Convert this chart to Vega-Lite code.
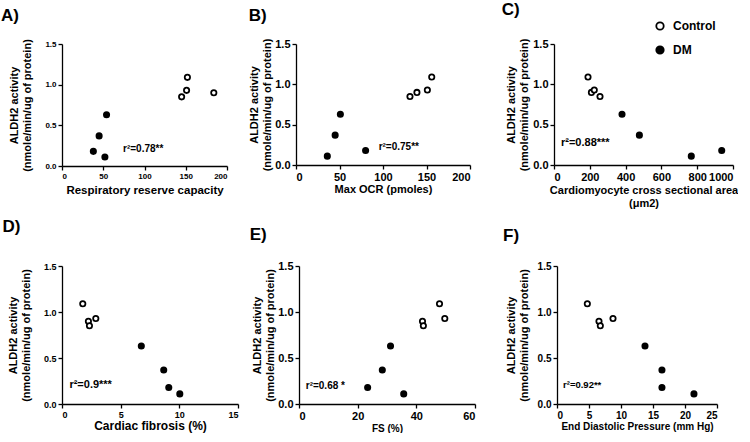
{
  "$schema": "https://vega.github.io/schema/vega-lite/v6.json",
  "background": "white",
  "padding": {"left": 0, "top": 0, "right": 0, "bottom": 0},
  "datasets": {
    "A": [
      {"x": 145, "y": 0.85, "group": "Control"}, {"x": 151, "y": 0.93, "group": "Control"},
      {"x": 152, "y": 1.09, "group": "Control"}, {"x": 184, "y": 0.90, "group": "Control"},
      {"x": 38, "y": 0.18, "group": "DM"}, {"x": 45, "y": 0.37, "group": "DM"},
      {"x": 52, "y": 0.11, "group": "DM"}, {"x": 54, "y": 0.63, "group": "DM"}
    ],
    "B": [
      {"x": 131, "y": 0.85, "group": "Control"}, {"x": 139, "y": 0.90, "group": "Control"},
      {"x": 151, "y": 0.93, "group": "Control"}, {"x": 156, "y": 1.09, "group": "Control"},
      {"x": 36, "y": 0.11, "group": "DM"}, {"x": 45, "y": 0.37, "group": "DM"},
      {"x": 51, "y": 0.63, "group": "DM"}, {"x": 80, "y": 0.18, "group": "DM"}
    ],
    "C": [
      {"x": 190, "y": 1.09, "group": "Control"}, {"x": 209, "y": 0.90, "group": "Control"},
      {"x": 225, "y": 0.93, "group": "Control"}, {"x": 257, "y": 0.85, "group": "Control"},
      {"x": 380, "y": 0.63, "group": "DM"}, {"x": 477, "y": 0.37, "group": "DM"},
      {"x": 767, "y": 0.11, "group": "DM"}, {"x": 937, "y": 0.18, "group": "DM"}
    ],
    "D": [
      {"x": 1.77, "y": 1.09, "group": "Control"}, {"x": 2.25, "y": 0.90, "group": "Control"},
      {"x": 2.34, "y": 0.85, "group": "Control"}, {"x": 2.88, "y": 0.93, "group": "Control"},
      {"x": 6.76, "y": 0.63, "group": "DM"}, {"x": 8.67, "y": 0.37, "group": "DM"},
      {"x": 9.1, "y": 0.18, "group": "DM"}, {"x": 10.04, "y": 0.11, "group": "DM"}
    ],
    "E": [
      {"x": 42.1, "y": 0.90, "group": "Control"}, {"x": 42.4, "y": 0.85, "group": "Control"},
      {"x": 47.9, "y": 1.09, "group": "Control"}, {"x": 49.7, "y": 0.93, "group": "Control"},
      {"x": 23.4, "y": 0.18, "group": "DM"}, {"x": 28.4, "y": 0.37, "group": "DM"},
      {"x": 31.2, "y": 0.63, "group": "DM"}, {"x": 35.7, "y": 0.11, "group": "DM"}
    ],
    "F": [
      {"x": 4.74, "y": 1.09, "group": "Control"}, {"x": 6.56, "y": 0.90, "group": "Control"},
      {"x": 6.77, "y": 0.85, "group": "Control"}, {"x": 8.75, "y": 0.93, "group": "Control"},
      {"x": 13.75, "y": 0.63, "group": "DM"}, {"x": 16.4, "y": 0.37, "group": "DM"},
      {"x": 16.4, "y": 0.18, "group": "DM"}, {"x": 21.4, "y": 0.11, "group": "DM"}
    ],
    "notes": [
      {"panel": "A", "x": 74, "y": 0.21, "label": "r²=0.78**"},
      {"panel": "B", "x": 95, "y": 0.22, "label": "r²=0.75**"},
      {"panel": "C", "x": 39, "y": 0.27, "label": "r²=0.88***"},
      {"panel": "D", "x": 0.63, "y": 0.21, "label": "r²=0.9***"},
      {"panel": "E", "x": 2.3, "y": 0.2, "label": "r²=0.68 *"},
      {"panel": "F", "x": 0.94, "y": 0.21, "label": "r²=0.92**"}
    ]
  },
  "resolve": {"scale": {"fill": "independent"}, "legend": {"fill": "independent"}},
  "spacing": 10,
  "vconcat": [
    {
      "resolve": {"scale": {"fill": "independent"}, "legend": {"fill": "independent"}},
      "columns": 2, "align": "none", "spacing": 30,
      "concat": [
        {
          "resolve": {"scale": {"fill": "independent"}, "legend": {"fill": "independent"}},
          "columns": 2, "align": "none", "spacing": 20,
          "concat": [
            {
              "title": {"text": "A)", "offset": 13.5, "dx": -8},
              "width": 165, "height": 122,
              "encoding": {
                "x": {"field": "x", "type": "quantitative", "scale": {"domain": [0, 200]},
                      "axis": {"values": [0, 50, 100, 150, 200], "title": "Respiratory reserve capacity", "labelFontSize": 8, "titleFontSize": 11.5, "titlePadding": 4}},
                "y": {"field": "y", "type": "quantitative", "scale": {"domain": [0, 1.5]},
                      "axis": {"values": [0, 0.5, 1, 1.5], "format": ".1f", "title": ["ALDH2 activity", "(nmole/min/ug of protein)"], "labelFontSize": 8, "titlePadding": 12}}
              },
              "layer": [
                {
                  "data": {"name": "A"},
                  "mark": {"type": "point", "filled": true, "size": 28, "stroke": "black", "strokeWidth": 1.8, "opacity": 1},
                  "encoding": {"fill": {"field": "group", "type": "nominal", "scale": {"domain": ["Control", "DM"], "range": ["white", "black"]}, "legend": null}}
                },
                {
                  "data": {"name": "notes"},
                  "transform": [{"filter": "datum.panel === 'A'"}],
                  "mark": {"type": "text", "align": "left", "baseline": "middle", "fontWeight": "bold", "fontSize": 10, "font": "Liberation Sans", "color": "black"},
                  "encoding": {"text": {"field": "label"}}
                }
              ]
            },
            {
              "title": {"text": "B)", "offset": 13, "dx": 0},
              "width": 174, "height": 121,
              "encoding": {
                "x": {"field": "x", "type": "quantitative", "scale": {"domain": [0, 200]},
                      "axis": {"values": [0, 50, 100, 150, 200], "title": "Max OCR (pmoles)", "labelFontSize": 11, "titleFontSize": 11, "titlePadding": 1}},
                "y": {"field": "y", "type": "quantitative", "scale": {"domain": [0, 1.5]},
                      "axis": {"values": [0, 0.5, 1, 1.5], "format": ".1f", "title": ["ALDH2 activity", "(nmole/min/ug of protein)"], "labelFontSize": 11, "titlePadding": 2}}
              },
              "layer": [
                {
                  "data": {"name": "B"},
                  "mark": {"type": "point", "filled": true, "size": 28, "stroke": "black", "strokeWidth": 1.8, "opacity": 1},
                  "encoding": {"fill": {"field": "group", "type": "nominal", "scale": {"domain": ["Control", "DM"], "range": ["white", "black"]}, "legend": null}}
                },
                {
                  "data": {"name": "notes"},
                  "transform": [{"filter": "datum.panel === 'B'"}],
                  "mark": {"type": "text", "align": "left", "baseline": "middle", "fontWeight": "bold", "fontSize": 10, "font": "Liberation Sans", "color": "black"},
                  "encoding": {"text": {"field": "label"}}
                }
              ]
            }
          ]
        },
        {
          "title": {"text": "C)", "offset": 1.5, "dx": -4},
          "width": 179, "height": 121,
          "encoding": {
            "x": {"field": "x", "type": "quantitative", "scale": {"domain": [0, 1000]},
                  "axis": {"values": [0, 200, 400, 600, 800, 1000], "format": "d", "title": ["Cardiomyocyte cross sectional area", "(μm2)"], "labelFontSize": 11, "titleFontSize": 11, "titlePadding": 2}},
            "y": {"field": "y", "type": "quantitative", "scale": {"domain": [0, 1.5]},
                  "axis": {"values": [0, 0.5, 1, 1.5], "format": ".1f", "title": ["ALDH2 activity", "(nmole/min/ug of protein)"], "labelFontSize": 11, "titlePadding": 3}}
          },
          "layer": [
            {
              "data": {"name": "C"},
              "mark": {"type": "point", "filled": true, "size": 28, "stroke": "black", "strokeWidth": 1.8, "opacity": 1},
              "encoding": {"fill": {"field": "group", "type": "nominal", "scale": {"domain": ["Control", "DM"], "range": ["white", "black"]},
                         "legend": {"orient": "none", "legendX": 100, "legendY": -24, "title": null, "symbolType": "circle", "symbolSize": 55, "symbolStrokeColor": "black", "symbolStrokeWidth": 1.8, "labelFontSize": 12, "labelFontWeight": "bold", "labelFont": "Liberation Sans", "labelColor": "black", "rowPadding": 8, "labelOffset": 7}}}
            },
            {
              "data": {"name": "notes"},
              "transform": [{"filter": "datum.panel === 'C'"}],
              "mark": {"type": "text", "align": "left", "baseline": "middle", "fontWeight": "bold", "fontSize": 11, "font": "Liberation Sans", "color": "black"},
              "encoding": {"text": {"field": "label"}}
            }
          ]
        }
      ]
    },
    {
      "resolve": {"scale": {"fill": "independent"}, "legend": {"fill": "independent"}},
      "columns": 2, "align": "none", "spacing": 27,
      "concat": [
        {
          "resolve": {"scale": {"fill": "independent"}, "legend": {"fill": "independent"}},
          "columns": 2, "align": "none", "spacing": 10,
          "concat": [
            {
              "title": {"text": "D)", "offset": 26, "dx": -5},
              "width": 176, "height": 138,
              "encoding": {
                "x": {"field": "x", "type": "quantitative", "scale": {"domain": [0, 15]},
                      "axis": {"values": [0, 5, 10, 15], "title": "Cardiac fibrosis (%)", "labelFontSize": 9, "titleFontSize": 12, "titlePadding": 1}},
                "y": {"field": "y", "type": "quantitative", "scale": {"domain": [0, 1.5]},
                      "axis": {"values": [0, 0.5, 1, 1.5], "format": ".1f", "title": ["ALDH2 activity", "(nmole/min/ug of protein)"], "labelFontSize": 9, "titlePadding": 12}}
              },
              "layer": [
                {
                  "data": {"name": "D"},
                  "mark": {"type": "point", "filled": true, "size": 28, "stroke": "black", "strokeWidth": 1.8, "opacity": 1},
                  "encoding": {"fill": {"field": "group", "type": "nominal", "scale": {"domain": ["Control", "DM"], "range": ["white", "black"]}, "legend": null}}
                },
                {
                  "data": {"name": "notes"},
                  "transform": [{"filter": "datum.panel === 'D'"}],
                  "mark": {"type": "text", "align": "left", "baseline": "middle", "fontWeight": "bold", "fontSize": 11, "font": "Liberation Sans", "color": "black"},
                  "encoding": {"text": {"field": "label"}}
                }
              ]
            },
            {
              "title": {"text": "E)", "offset": 16, "dx": -2},
              "width": 176, "height": 138,
              "encoding": {
                "x": {"field": "x", "type": "quantitative", "scale": {"domain": [0, 60]},
                      "axis": {"values": [0, 20, 40, 60], "title": "FS (%)", "labelFontSize": 11, "titleFontSize": 10, "titlePadding": 2}},
                "y": {"field": "y", "type": "quantitative", "scale": {"domain": [0, 1.5]},
                      "axis": {"values": [0, 0.5, 1, 1.5], "format": ".1f", "title": ["ALDH2 activity", "(nmole/min/ug of protein)"], "labelFontSize": 11, "titlePadding": 2}}
              },
              "layer": [
                {
                  "data": {"name": "E"},
                  "mark": {"type": "point", "filled": true, "size": 28, "stroke": "black", "strokeWidth": 1.8, "opacity": 1},
                  "encoding": {"fill": {"field": "group", "type": "nominal", "scale": {"domain": ["Control", "DM"], "range": ["white", "black"]}, "legend": null}}
                },
                {
                  "data": {"name": "notes"},
                  "transform": [{"filter": "datum.panel === 'E'"}],
                  "mark": {"type": "text", "align": "left", "baseline": "middle", "fontWeight": "bold", "fontSize": 10, "font": "Liberation Sans", "color": "black"},
                  "encoding": {"text": {"field": "label"}}
                }
              ]
            }
          ]
        },
        {
          "title": {"text": "F)", "offset": 16.5, "dx": -2},
          "width": 160, "height": 138,
          "encoding": {
            "x": {"field": "x", "type": "quantitative", "scale": {"domain": [0, 25]},
                  "axis": {"values": [0, 5, 10, 15, 20, 25], "title": "End Diastolic Pressure (mm Hg)", "labelFontSize": 10, "titleFontSize": 10, "titlePadding": 1}},
            "y": {"field": "y", "type": "quantitative", "scale": {"domain": [0, 1.5]},
                  "axis": {"values": [0, 0.5, 1, 1.5], "format": ".1f", "title": ["ALDH2 activity", "(nmole/min/ug of protein)"], "labelFontSize": 10, "titlePadding": 8}}
          },
          "layer": [
            {
              "data": {"name": "F"},
              "mark": {"type": "point", "filled": true, "size": 28, "stroke": "black", "strokeWidth": 1.8, "opacity": 1},
              "encoding": {"fill": {"field": "group", "type": "nominal", "scale": {"domain": ["Control", "DM"], "range": ["white", "black"]}, "legend": null}}
            },
            {
              "data": {"name": "notes"},
              "transform": [{"filter": "datum.panel === 'F'"}],
              "mark": {"type": "text", "align": "left", "baseline": "middle", "fontWeight": "bold", "fontSize": 9.5, "font": "Liberation Sans", "color": "black"},
              "encoding": {"text": {"field": "label"}}
            }
          ]
        }
      ]
    }
  ],
  "config": {
    "font": "Liberation Sans",
    "view": {"stroke": null},
    "title": {"anchor": "start", "frame": "bounds", "fontSize": 17, "fontWeight": "bold", "color": "black", "font": "Liberation Sans"},
    "axis": {
      "grid": false, "labelOverlap": false,
      "domainColor": "black", "domainWidth": 1.3,
      "tickColor": "black", "tickWidth": 1.3, "tickSize": 4,
      "labelColor": "black", "labelFontWeight": "bold", "labelFont": "Liberation Sans", "labelPadding": 2,
      "titleColor": "black", "titleFontWeight": "bold", "titleFont": "Liberation Sans", "titleFontSize": 11, "titleLineHeight": 13
    }
  }
}
